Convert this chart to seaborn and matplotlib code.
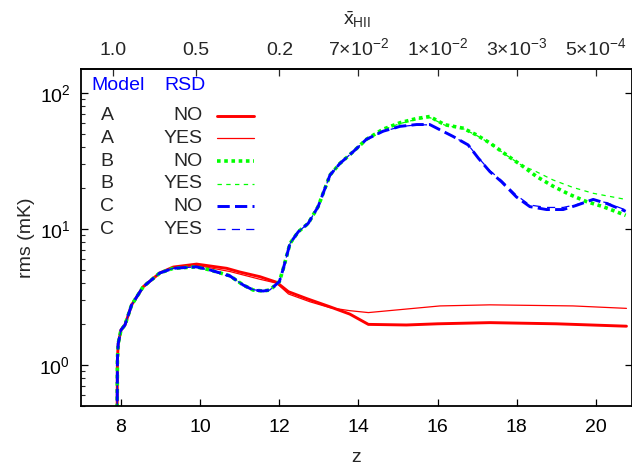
import numpy as np
import pandas as pd
import matplotlib
matplotlib.use("Agg")
import matplotlib.pyplot as plt
import seaborn as sns
from matplotlib.ticker import LogLocator, NullFormatter
from matplotlib.lines import Line2D

# ---- data: rms brightness temperature fluctuation vs redshift ----
z_A_no = [7.90, 7.91, 7.93, 8.00, 8.10, 8.27, 8.56, 8.98, 9.32, 9.91, 10.67, 11.00,
          11.51, 11.93, 12.23, 12.69, 13.28, 13.78, 14.25, 15.21, 16.00, 17.32, 19.00, 20.77]
rms_A_no = [0.30, 1.10, 1.44, 1.81, 1.97, 2.77, 3.76, 4.75, 5.25, 5.52, 5.14, 4.83,
            4.46, 4.06, 3.46, 3.08, 2.68, 2.37, 1.99, 1.97, 2.01, 2.05, 2.01, 1.93]

z_A_yes = [7.90, 7.91, 7.93, 8.00, 8.10, 8.27, 8.56, 8.98, 9.32, 9.91, 10.75, 11.51,
           11.93, 12.23, 12.77, 13.28, 13.78, 14.25, 15.21, 16.06, 17.32, 19.42, 20.77]
rms_A_yes = [0.30, 1.10, 1.44, 1.81, 1.97, 2.77, 3.76, 4.75, 5.20, 5.41, 4.87, 4.27,
             4.00, 3.33, 2.92, 2.64, 2.51, 2.43, 2.58, 2.72, 2.77, 2.72, 2.61]

z_B_no = [7.90, 7.91, 7.93, 8.00, 8.10, 8.27, 8.56, 8.98, 9.32, 9.90, 10.25, 10.75,
          11.09, 11.34, 11.59, 11.76, 12.00, 12.10, 12.27, 12.48, 12.73, 12.98, 13.28,
          13.53, 13.87, 14.20, 14.62, 15.05, 15.47, 15.80, 16.18, 16.64, 16.98, 17.32,
          17.74, 18.16, 18.50, 18.92, 19.34, 19.76, 20.18, 20.75]
rms_B_no = [0.30, 1.10, 1.44, 1.81, 1.97, 2.77, 3.76, 4.75, 5.14, 5.27, 5.00, 4.53,
            3.87, 3.56, 3.50, 3.56, 4.10, 5.11, 7.83, 9.55, 11.0, 14.6, 24.9,
            30.3, 37.1, 45.6, 54.1, 60.4, 64.9, 67.1, 58.4, 55.1, 49.2, 42.9,
            35.0, 28.8, 24.3, 20.6, 17.9, 15.9, 14.6, 12.6]

z_B_yes = [7.90, 7.91, 7.93, 8.00, 8.10, 8.27, 8.56, 8.98, 9.32, 9.90, 10.25, 10.75,
           11.09, 11.34, 11.59, 11.76, 12.00, 12.10, 12.27, 12.48, 12.73, 12.98, 13.28,
           13.53, 13.87, 14.20, 14.62, 15.05, 15.47, 15.80, 16.18, 16.64, 16.98, 17.32,
           17.74, 18.16, 18.41, 18.92, 19.42, 19.93, 20.75]
rms_B_yes = [0.30, 1.10, 1.44, 1.81, 1.97, 2.77, 3.76, 4.75, 5.14, 5.27, 5.00, 4.53,
             3.87, 3.56, 3.50, 3.56, 4.10, 5.11, 7.83, 9.55, 11.0, 14.6, 24.9,
             30.3, 37.1, 45.6, 53.6, 59.6, 64.0, 66.0, 58.0, 54.6, 48.8, 42.6,
             34.8, 28.9, 27.1, 22.9, 20.2, 18.3, 16.5]

z_C_no = [7.90, 7.91, 7.93, 8.00, 8.10, 8.27, 8.56, 8.98, 9.32, 9.90, 10.25, 10.75,
          11.09, 11.34, 11.59, 11.76, 12.00, 12.10, 12.27, 12.48, 12.73, 12.98, 13.28,
          13.53, 13.87, 14.20, 14.62, 15.05, 15.47, 15.80, 16.06, 16.39, 16.77, 17.03,
          17.32, 17.61, 17.99, 18.33, 18.75, 19.17, 19.50, 19.93, 20.27, 20.75]
rms_C_no = [0.30, 1.10, 1.44, 1.81, 1.97, 2.77, 3.76, 4.75, 5.14, 5.27, 5.00, 4.53,
            3.87, 3.56, 3.50, 3.56, 4.10, 5.11, 7.83, 9.55, 11.0, 14.6, 24.9,
            30.3, 37.1, 45.6, 52.3, 56.8, 58.6, 58.6, 53.6, 47.9, 41.5, 33.1,
            26.4, 22.3, 17.2, 14.6, 13.9, 13.9, 14.9, 16.5, 15.4, 13.5]

z_C_yes = z_C_no
rms_C_yes = [0.30, 1.10, 1.44, 1.81, 1.97, 2.77, 3.76, 4.75, 5.14, 5.27, 4.95, 4.45,
             3.90, 3.58, 3.50, 3.56, 4.10, 5.11, 7.83, 9.55, 11.0, 14.6, 24.9,
             30.3, 37.1, 45.6, 52.0, 56.5, 58.3, 58.3, 53.4, 47.8, 41.6, 33.4,
             26.8, 22.8, 17.7, 15.0, 14.4, 14.4, 15.1, 16.4, 15.6, 13.8]

models = ["A", "A", "B", "B", "C", "C"]
rsd = ["NO", "YES", "NO", "YES", "NO", "YES"]
z_series = [z_A_no, z_A_yes, z_B_no, z_B_yes, z_C_no, z_C_yes]
rms_series = [rms_A_no, rms_A_yes, rms_B_no, rms_B_yes, rms_C_no, rms_C_yes]

# top axis: mean ionized fraction at selected redshifts
xhii_z = [7.8, 9.9, 12.0, 14.0, 16.0, 18.0, 20.0]
xhii_labels = ["1.0", "0.5", "0.2", r"$7{\times}10^{-2}$", r"$1{\times}10^{-2}$",
               r"$3{\times}10^{-3}$", r"$5{\times}10^{-4}$"]

# ---- styles ----
colors = ["#ff0000", "#ff0000", "#00ff00", "#00ff00", "#0000ff", "#0000ff"]
widths = [2.1, 0.9, 2.6, 0.9, 2.1, 0.9]
styles = ["-", "-", (0, (1.0, 1.0)), (0, (3.5, 3.5)), (0, (4.2, 1.8)), (0, (6.5, 5.0))]

sns.set_theme(style="ticks")
plt.rcParams["font.family"] = ["Liberation Sans", "DejaVu Sans"]
plt.rcParams["mathtext.fontset"] = "custom"
plt.rcParams["mathtext.rm"] = "Liberation Sans"
plt.rcParams["mathtext.it"] = "Liberation Sans:italic"
plt.rcParams["mathtext.bf"] = "Liberation Sans:bold"
FS = 14

fig = plt.figure(figsize=(6.32, 4.70), dpi=100)
ax = fig.add_axes([81.4 / 632, 64 / 470, 550.2 / 632, 337 / 470])

frames = []
for m, r, zz, vv in zip(models, rsd, z_series, rms_series):
    frames.append(pd.DataFrame({"z": zz, "rms": vv, "series": f"{m} {r}"}))
df = pd.concat(frames, ignore_index=True)

order = [f"{m} {r}" for m, r in zip(models, rsd)]
for name, c, w, ls in zip(order, colors, widths, styles):
    sub = df[df["series"] == name]
    sns.lineplot(data=sub, x="z", y="rms", ax=ax, color=c, lw=w, linestyle=ls,
                 sort=False, estimator=None, legend=False)
    ax.lines[-1].set_dash_capstyle("butt")

ax.set_yscale("log")
ax.set_xlim(7.0, 20.9)
ax.set_ylim(0.5, 150)
ax.set_xticks([8, 10, 12, 14, 16, 18, 20])
ax.set_xticklabels(["8", "10", "12", "14", "16", "18", "20"])
ax.yaxis.set_major_locator(LogLocator(base=10, numticks=10))
ax.yaxis.set_minor_locator(LogLocator(base=10, subs=np.arange(2, 10), numticks=20))
ax.yaxis.set_minor_formatter(NullFormatter())
ax.tick_params(axis="both", which="major", direction="in", length=5, width=0.9,
               labelsize=FS, color="black", labelcolor="black")
ax.tick_params(axis="y", which="major", pad=8, right=True)
ax.tick_params(axis="y", which="minor", direction="in", length=3, width=0.8, right=False)
ax.tick_params(axis="x", which="major", pad=9, top=False)
for s in ax.spines.values():
    s.set_color("black")
    s.set_linewidth(1.3)
ax.set_xlabel("z", fontsize=FS, labelpad=10)
ax.set_ylabel("rms (mK)", fontsize=FS, labelpad=3)

top = ax.secondary_xaxis("top")
top.set_xticks(xhii_z)
top.set_xticklabels(xhii_labels)
top.tick_params(direction="in", length=5, width=0.9, labelsize=FS, pad=7)
top.set_xlabel(r"$\bar{\mathrm{x}}_{\mathrm{HII}}$", fontsize=FS, labelpad=9)

# key table
ax.text(0.0665, 0.952, "Model", color="#0000ff", fontsize=FS, ha="center", va="center",
        transform=ax.transAxes)
ax.text(0.188, 0.952, "RSD", color="#0000ff", fontsize=FS, ha="center", va="center",
        transform=ax.transAxes)
rows_y = [0.861, 0.794, 0.727, 0.659, 0.593, 0.525]
for m, r, yy, c, w, ls in zip(models, rsd, rows_y, colors, widths, styles):
    ax.text(0.0465, yy, m, fontsize=FS, ha="center", va="center", transform=ax.transAxes)
    ax.text(0.221, yy, r, fontsize=FS, ha="right", va="center", transform=ax.transAxes)
    ax.add_line(Line2D([0.246, 0.314], [yy, yy], color=c, lw=w, linestyle=ls,
                       dash_capstyle="butt", transform=ax.transAxes))

fig.savefig("out.png", dpi=100)
